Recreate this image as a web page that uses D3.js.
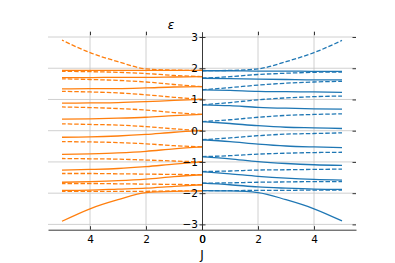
<!DOCTYPE html>
<html>
<head>
<meta charset="utf-8">
<script src="https://cdn.jsdelivr.net/npm/d3@7"></script>
<style>
	body { margin: 0; background: #fff; }
	text { font-family: "DejaVu Sans", sans-serif; }
</style>
</head>
<body>
<svg id="chart" width="395" height="263"></svg>
<script>
// J sample points, shared by every curve
var jValues = [0, 1, 2, 3, 4, 5];

// left half (orange) - levels of the odd chain
var orangeSolid = [
	[1.93, 1.93, 1.93, 1.93, 1.93, 1.93],
	[1.73, 1.72, 1.71, 1.71, 1.70, 1.70],
	[1.41, 1.40, 1.37, 1.35, 1.35, 1.34],
	[1.00, 0.97, 0.93, 0.90, 0.89, 0.88],
	[0.52, 0.48, 0.43, 0.40, 0.38, 0.37],
	[0.00, -0.05, -0.12, -0.17, -0.20, -0.21],
	[-0.52, -0.58, -0.66, -0.71, -0.74, -0.76],
	[-1.00, -1.07, -1.15, -1.21, -1.24, -1.26],
	[-1.41, -1.47, -1.55, -1.60, -1.63, -1.65],
	[-1.73, -1.78, -1.84, -1.87, -1.90, -1.91],
	[-1.93, -1.94, -1.98, -2.21, -2.50, -2.90]
];
var orangeDashed = [
	[1.93, 1.94, 1.98, 2.21, 2.50, 2.90],
	[1.73, 1.77, 1.83, 1.87, 1.89, 1.90],
	[1.41, 1.48, 1.56, 1.61, 1.64, 1.66],
	[1.00, 1.07, 1.15, 1.21, 1.24, 1.26],
	[0.52, 0.58, 0.66, 0.71, 0.74, 0.76],
	[0.00, 0.06, 0.13, 0.18, 0.20, 0.22],
	[-0.52, -0.48, -0.42, -0.38, -0.36, -0.35],
	[-1.00, -0.97, -0.94, -0.91, -0.90, -0.89],
	[-1.41, -1.40, -1.39, -1.38, -1.37, -1.37],
	[-1.73, -1.72, -1.71, -1.70, -1.69, -1.69],
	[-1.93, -1.93, -1.94, -1.94, -1.94, -1.94]
];

// right half (blue) - levels of the even chain
var blueSolid = [
	[1.92, 1.92, 1.91, 1.91, 1.90, 1.90],
	[1.68, 1.67, 1.65, 1.64, 1.63, 1.63],
	[1.31, 1.29, 1.26, 1.25, 1.24, 1.23],
	[0.83, 0.80, 0.75, 0.72, 0.70, 0.69],
	[0.29, 0.23, 0.16, 0.11, 0.09, 0.07],
	[-0.29, -0.35, -0.43, -0.49, -0.52, -0.54],
	[-0.83, -0.90, -0.99, -1.05, -1.09, -1.11],
	[-1.31, -1.38, -1.46, -1.52, -1.56, -1.58],
	[-1.68, -1.73, -1.80, -1.84, -1.87, -1.88],
	[-1.92, -1.93, -1.98, -2.21, -2.50, -2.89]
];
var blueDashed = [
	[1.92, 1.93, 1.98, 2.21, 2.50, 2.89],
	[1.68, 1.73, 1.80, 1.84, 1.87, 1.88],
	[1.31, 1.38, 1.46, 1.52, 1.56, 1.58],
	[0.83, 0.90, 0.99, 1.05, 1.09, 1.11],
	[0.29, 0.35, 0.43, 0.49, 0.52, 0.54],
	[-0.29, -0.23, -0.16, -0.11, -0.09, -0.07],
	[-0.83, -0.80, -0.75, -0.72, -0.70, -0.69],
	[-1.31, -1.29, -1.26, -1.25, -1.24, -1.23],
	[-1.68, -1.67, -1.65, -1.64, -1.63, -1.63],
	[-1.92, -1.92, -1.91, -1.91, -1.90, -1.90]
];

var xTicks = [0, 2, 4];
var yTicks = [-3, -2, -1, 0, 1, 2, 3];
var xLabel = 'J';
var yLabel = 'ε';

var colors = { left: '#ff7f0e', right: '#1f77b4' };

// plot box
var box = { left: 48, right: 356, top: 31.7, bottom: 229.7, mid: 202 };

var svg = d3.select('#chart');

var xLeft = d3.scaleLinear().domain([0, 5.5]).range([box.mid, box.left]);
var xRight = d3.scaleLinear().domain([0, 5.5]).range([box.mid, box.right]);
var y = d3.scaleLinear().domain([-3.17, 3.17]).range([box.bottom, box.top]);

// Grid lines
var grid = svg.append('g')
	.attr('stroke', '#c4c4c4')
	.attr('stroke-width', 0.8);

grid.selectAll('line.h')
	.data(yTicks)
	.enter().append('line')
	.attr('class', 'h')
	.attr('x1', box.left)
	.attr('x2', box.right)
	.attr('y1', function(d) { return y(d); })
	.attr('y2', function(d) { return y(d); });

[xLeft, xRight].forEach(function(sc) {
	grid.selectAll(null)
		.data(xTicks.filter(function(d) { return d > 0; }))
		.enter().append('line')
		.attr('x1', function(d) { return sc(d); })
		.attr('x2', function(d) { return sc(d); })
		.attr('y1', box.top)
		.attr('y2', box.bottom);
});

// Curves
function drawSet(sc, rows, color, dashed) {
	var line = d3.line()
		.x(function(d, i) { return sc(jValues[i]); })
		.y(function(d) { return y(d); })
		.curve(d3.curveMonotoneX);

	svg.append('g').selectAll('path')
		.data(rows)
		.enter().append('path')
		.attr('d', line)
		.attr('fill', 'none')
		.attr('stroke', color)
		.attr('stroke-width', 1.3)
		.attr('stroke-dasharray', dashed ? '4.5,2' : null);
}

drawSet(xLeft, orangeSolid, colors.left, false);
drawSet(xLeft, orangeDashed, colors.left, true);
drawSet(xRight, blueSolid, colors.right, false);
drawSet(xRight, blueDashed, colors.right, true);

// Bottom axes (one per half)
[xLeft, xRight].forEach(function(sc) {
	svg.append('g')
		.attr('transform', 'translate(0,' + box.bottom + ')')
		.call(d3.axisBottom(sc).tickValues(xTicks).tickFormat(d3.format('d'))
			.tickSizeInner(-3.5).tickSizeOuter(0).tickPadding(6))
		.call(function(g) {
			g.selectAll('text').attr('font-size', 10.5).attr('fill', '#000').attr('font-family', null);
			g.selectAll('line, path').attr('stroke', '#222').attr('stroke-width', 0.9);
		});

	// inward ticks along the top edge, no spine
	svg.append('g')
		.attr('transform', 'translate(0,' + box.top + ')')
		.call(d3.axisTop(sc).tickValues(xTicks.filter(function(d) { return d > 0; }))
			.tickFormat('').tickSizeInner(-3.5).tickSizeOuter(0))
		.call(function(g) {
			g.select('.domain').remove();
			g.selectAll('line').attr('stroke', '#222').attr('stroke-width', 0.9);
		});
});

// inward ticks along the right edge, no spine
svg.append('g')
	.attr('transform', 'translate(' + box.right + ',0)')
	.call(d3.axisRight(y).tickValues(yTicks).tickFormat('').tickSizeInner(-3.5).tickSizeOuter(0))
	.call(function(g) {
		g.select('.domain').remove();
		g.selectAll('line').attr('stroke', '#222').attr('stroke-width', 0.9);
	});

// Centre spine with in-out ticks
svg.append('g')
	.attr('transform', 'translate(' + box.mid + ',0)')
	.call(d3.axisLeft(y).tickValues(yTicks).tickFormat(d3.format('d'))
		.tickSizeInner(3.5).tickSizeOuter(0).tickPadding(0.5))
	.call(function(g) {
		g.selectAll('.tick line').attr('x1', 3.5).attr('x2', -2.5);
		g.selectAll('text').attr('font-size', 10.5).attr('fill', '#000').attr('font-family', null);
		g.selectAll('line, path').attr('stroke', '#222').attr('stroke-width', 0.9);
	});

// Axis labels
svg.append('text')
	.attr('x', box.mid)
	.attr('y', 259)
	.attr('text-anchor', 'middle')
	.attr('font-size', 12)
	.text(xLabel);

svg.append('text')
	.attr('x', 171)
	.attr('y', 29)
	.attr('text-anchor', 'middle')
	.attr('font-size', 12)
	.attr('font-style', 'italic')
	.text(yLabel);
</script>
</body>
</html>
